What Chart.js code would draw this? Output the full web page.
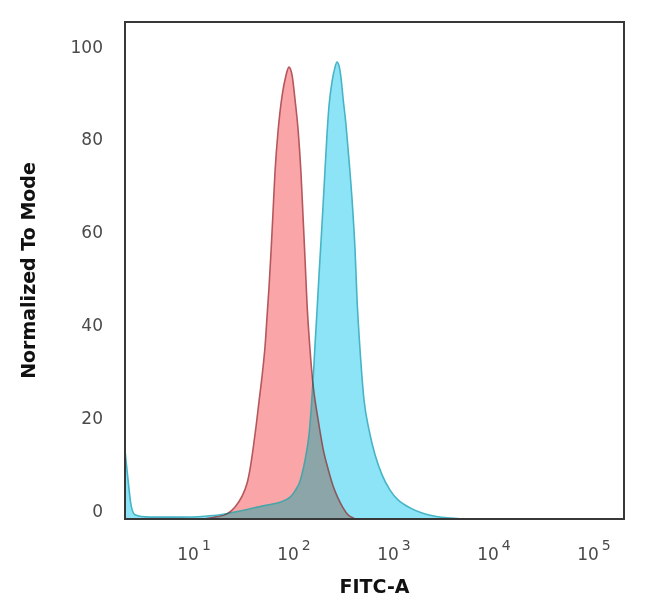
<!DOCTYPE html>
<html>
<head>
<meta charset="utf-8">
<script src="https://cdn.jsdelivr.net/npm/chart.js@4.4.1/dist/chart.umd.min.js"></script>
<style>
  body { margin: 0; background: #fff; }
  #wrap { width: 650px; height: 609px; }
</style>
</head>
<body>
<div id="wrap"><canvas id="histo" width="650" height="609"></canvas></div>
<script>
// FITC-A intensity (x) and % of mode (y)
const isoX = [14.8, 18.6, 24.5, 29.5, 34.7, 38.9, 41.7, 44.7, 47.9, 51.3, 55.0, 58.9, 61.7, 64.6, 67.6,
  70.8, 74.1, 79.4, 87.1, 95.5, 102, 110, 117, 126, 135, 141, 148, 155, 166, 178, 200, 224, 251, 282,
  316, 355, 398, 468];
const isoY = [0, 0.4, 1.1, 2.6, 4.9, 7.7, 10.8, 15.1, 20.0, 25.4, 30.8, 37.2, 43.7, 50.1, 57.6,
  66.2, 74.8, 83.4, 91.0, 95.5, 97.2, 95.3, 90.5, 83.7, 74.0, 65.4, 55.7, 46.0, 36.3, 28.8, 21.3, 15.1, 10.8, 7.1,
  4.5, 2.4, 0.9, 0];

const stainX = [2.34, 2.51, 2.69, 2.95, 4.17, 8.32, 14.8, 20.9, 26.3, 41.7, 61.7, 83.2, 105, 117, 132,
  148, 162, 170, 178, 186, 195, 204, 214, 224, 234, 245, 257, 275, 295, 309, 324, 339, 355, 380, 407,
  437, 468, 490, 525, 575, 646, 741, 871, 1047, 1259, 1660, 2188, 2951, 4169, 5888];
const stainY = [14.8, 8.4, 3.0, 0.9, 0.4, 0.4, 0.6, 0.9, 1.3, 2.2, 3.0, 3.6, 4.7, 6.0, 8.2,
  12.7, 18.1, 23.4, 29.9, 37.4, 44.9, 52.5, 60.0, 67.5, 75.0, 82.6, 89.0, 94.0, 97.2, 98.3, 97.4, 94.8, 90.5, 84.7, 77.2,
  68.6, 57.8, 47.1, 36.3, 25.6, 19.1, 13.8, 9.5, 6.2, 4.1, 2.4, 1.3, 0.6, 0.2, 0];

const xDecades = [1, 2, 3, 4, 5];
const yTickStep = 20;

function pts(xs, ys) {
  return xs.map((x, i) => ({ x: x, y: ys[i] }));
}

// frame round the plot + 10^n labels
const framePlugin = {
  id: 'frame',
  beforeDatasetsDraw(chart) {
    chart.ctx.globalCompositeOperation = 'darken';
  },
  afterDatasetsDraw(chart) {
    chart.ctx.globalCompositeOperation = 'source-over';
  },
  afterDraw(chart) {
    const { ctx, chartArea: a } = chart;
    ctx.save();
    ctx.strokeStyle = '#383838';
    ctx.lineWidth = 2;
    ctx.strokeRect(a.left, a.top, a.right - a.left, a.bottom - a.top);

    const xs = chart.scales.x;
    ctx.fillStyle = '#4a4a4a';
    ctx.textBaseline = 'middle';
    xDecades.forEach(k => {
      const px = xs.getPixelForValue(Math.pow(10, k));
      ctx.font = '17px "DejaVu Sans"';
      ctx.textAlign = 'center';
      const w = ctx.measureText('10').width;
      ctx.fillText('10', px, 556);
      ctx.font = '14px "DejaVu Sans"';
      ctx.textAlign = 'left';
      ctx.fillText(String(k), px + w / 2 + 3, 546);
    });
    ctx.restore();
  }
};

const ctx = document.getElementById('histo').getContext('2d');
const chart = new Chart(ctx, {
  type: 'line',
  data: {
    datasets: [
      {
        label: 'Isotype',
        data: pts(isoX, isoY),
        borderColor: '#b5575c',
        backgroundColor: 'rgb(250,165,168)',
        borderWidth: 1.6,
        fill: 'origin',
        order: 2
      },
      {
        label: 'Stained',
        data: pts(stainX, stainY),
        borderColor: '#46b4c6',
        backgroundColor: 'rgb(140,228,246)',
        borderWidth: 1.6,
        fill: 'origin',
        order: 1
      }
    ]
  },
  options: {
    responsive: false,
    animation: false,
    events: [],
    layout: { padding: { top: 22, right: 26, left: 0, bottom: 0 } },
    elements: {
      point: { radius: 0 },
      line: { cubicInterpolationMode: 'monotone' }
    },
    plugins: {
      legend: { display: false },
      tooltip: { enabled: false }
    },
    scales: {
      x: {
        type: 'logarithmic',
        min: 2.34,
        max: 229000,
        grid: { display: false, drawTicks: false },
        border: { display: false },
        ticks: { display: false },
        title: {
          display: true,
          text: 'FITC-A',
          color: '#111',
          font: { family: 'DejaVu Sans', size: 19, weight: 'bold' },
          padding: { top: 0, bottom: 10 }
        },
        afterFit(scale) {
          scale.height = 90;
          scale.paddingLeft = 0;
          scale.paddingRight = 0;
        }
      },
      y: {
        min: 0,
        max: 106.9,
        grid: { display: false, drawTicks: false },
        border: { display: false },
        ticks: {
          stepSize: yTickStep,
          includeBounds: false,
          padding: 22,
          labelOffset: -6,
          color: '#4a4a4a',
          font: { family: 'DejaVu Sans', size: 17 }
        },
        title: {
          display: true,
          text: 'Normalized To Mode',
          color: '#111',
          font: { family: 'DejaVu Sans', size: 19, weight: 'bold' },
          padding: { top: 19, bottom: 0 }
        },
        afterFit(scale) {
          scale.width = 125;
          scale.paddingTop = 0;
          scale.paddingBottom = 0;
        }
      }
    }
  },
  plugins: [framePlugin]
});
</script>
</body>
</html>
